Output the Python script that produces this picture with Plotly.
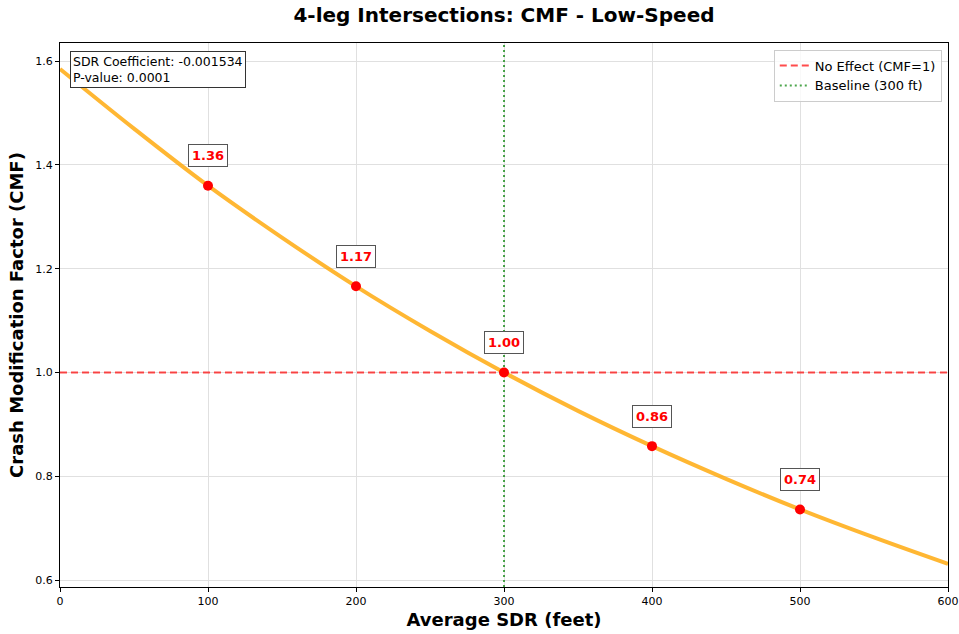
import plotly.graph_objects as go

# Curve values (CMF vs average SDR)
curve_x = [0, 50, 100, 150, 200, 250, 300, 350, 400, 450, 500, 550, 600]
curve_y = [1.585, 1.470, 1.360, 1.260, 1.166, 1.080, 1.000, 0.926, 0.858, 0.795, 0.736, 0.682, 0.631]

point_x = [100, 200, 300, 400, 500]
point_y = [1.36, 1.166, 1.00, 0.858, 0.736]
point_labels = ["1.36", "1.17", "1.00", "0.86", "0.74"]

x_ticks = [0, 100, 200, 300, 400, 500, 600]
y_ticks = [0.6, 0.8, 1.0, 1.2, 1.4, 1.6]

FONT = "DejaVu Sans"
Y_RANGE = [0.5865, 1.635]

fig = go.Figure()

fig.add_trace(go.Scatter(
    x=curve_x, y=curve_y, mode="lines",
    line=dict(color="rgba(255,165,0,0.8)", width=4, shape="spline"),
    showlegend=False, hoverinfo="skip"))

fig.add_trace(go.Scatter(
    x=[0, 600], y=[1, 1], mode="lines",
    line=dict(color="rgba(255,0,0,0.7)", width=2, dash="7px,4px"),
    name="No Effect (CMF=1)"))

fig.add_trace(go.Scatter(
    x=[300, 300], y=Y_RANGE, mode="lines",
    line=dict(color="rgba(0,128,0,0.7)", width=2, dash="2px,3px"),
    name="Baseline (300 ft)"))

fig.add_trace(go.Scatter(
    x=point_x, y=point_y, mode="markers",
    marker=dict(color="red", size=10),
    showlegend=False))

for px, py, lab in zip(point_x, point_y, point_labels):
    fig.add_annotation(
        x=px, y=py, text="<b>" + lab + "</b>", showarrow=False, yshift=30,
        font=dict(family=FONT, size=13, color="red"),
        bgcolor="white", bordercolor="#555555", borderwidth=1, borderpad=3)

fig.add_annotation(
    xref="paper", yref="paper", x=0.011, y=0.985, xanchor="left", yanchor="top",
    text="SDR Coefficient: -0.001534<br>P-value: 0.0001", align="left",
    showarrow=False, font=dict(family=FONT, size=12.5, color="black"),
    bgcolor="white", bordercolor="#333333", borderwidth=1, borderpad=2)

fig.update_layout(
    width=959, height=634,
    paper_bgcolor="white", plot_bgcolor="white",
    margin=dict(l=60, r=11, t=43, b=47),
    font=dict(family=FONT, color="black"),
    title=dict(text="<b>4-leg Intersections: CMF - Low-Speed</b>", x=0.5, xref="paper",
               xanchor="center", y=1 - 15 / 634, yanchor="middle",
               font=dict(family=FONT, size=20)),
    legend=dict(x=0.993, y=0.988, xanchor="right", yanchor="top",
                bgcolor="rgba(255,255,255,0.8)", bordercolor="#cccccc", borderwidth=1,
                font=dict(family=FONT, size=13), itemwidth=30),
)

fig.update_xaxes(
    range=[0, 600], tickvals=x_ticks, ticktext=[str(t) for t in x_ticks],
    showgrid=True, gridcolor="#e0e0e0", gridwidth=1, automargin=False,
    showline=True, linecolor="black", linewidth=1, mirror=True,
    ticks="outside", ticklen=4, tickcolor="black", zeroline=False,
    tickfont=dict(family=FONT, size=11),
    title=dict(text="<b>Average SDR (feet)</b>", font=dict(family=FONT, size=18), standoff=6))

fig.update_yaxes(
    range=Y_RANGE, tickvals=y_ticks, ticktext=[f"{t:.1f}" for t in y_ticks],
    showgrid=True, gridcolor="#e0e0e0", gridwidth=1, automargin=False,
    showline=True, linecolor="black", linewidth=1, mirror=True,
    ticks="outside", ticklen=4, tickcolor="black", zeroline=False,
    tickfont=dict(family=FONT, size=11),
    title=dict(text="<b>Crash Modification Factor (CMF)</b>", font=dict(family=FONT, size=18), standoff=6))

fig.write_html("out.html", config={"displayModeBar": False},
               post_script="document.body.style.margin='0';")
